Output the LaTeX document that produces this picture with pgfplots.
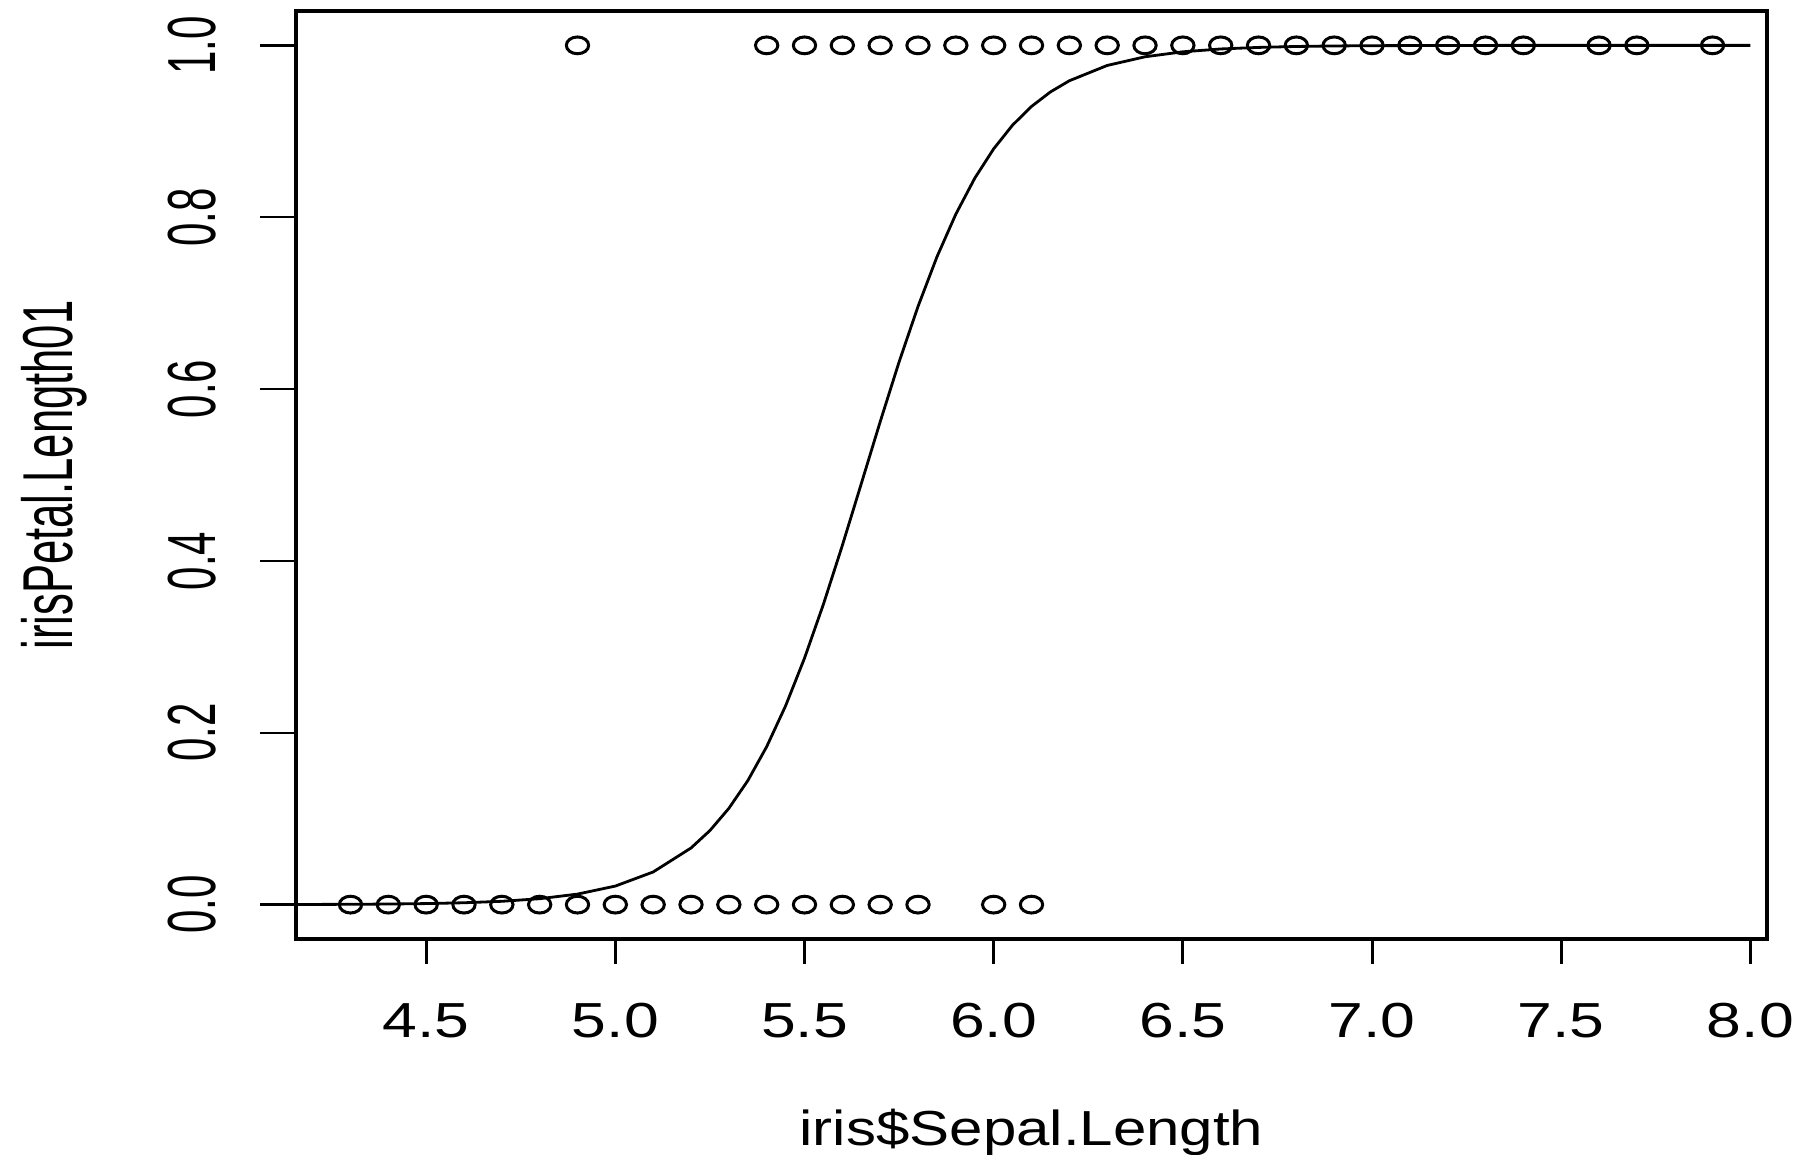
\documentclass[border=0pt]{standalone}
\usepackage{fontspec}
\setmainfont{Liberation Sans}
\newfontfamily\hfont[FakeStretch=1.27]{Liberation Sans}
\newfontfamily\lfont[FakeStretch=1.22]{Liberation Sans}
\usepackage{graphicx}
\usepackage{pgfplots}
\pgfplotsset{compat=1.18}
\newcommand\yl[1]{\scalebox{1}[1.62]{#1}}
\begin{document}
\begin{tikzpicture}
\path[use as bounding box] (0,0) rectangle (448.75pt,288.5pt);
\begin{axis}[
  at={(74pt,53.75pt)}, anchor=south west,
  scale only axis, width=367.75pt, height=232pt,
  xmin=4.156, xmax=8.044, ymin=-0.04, ymax=1.04,
  axis line style={line width=0.9pt},
  tick pos=left, tick align=outside,
  xtick={4.5,5.0,5.5,6.0,6.5,7.0,7.5,8.0},
  xticklabels={4.5,5.0,5.5,6.0,6.5,7.0,7.5,8.0},
  ytick={0,0.2,0.4,0.6,0.8,1.0},
  yticklabels={\yl{0.0},\yl{0.2},\yl{0.4},\yl{0.6},\yl{0.8},\yl{1.0}},
  major tick length=9pt,
  xtick style={/pgfplots/major tick length=6.25pt, line width=0.75pt, black},
  ytick style={line width=0.6pt, black},
  xticklabel style={font=\hfont\fontsize{12.3pt}{14pt}\selectfont, anchor=base, inner sep=0pt, yshift=-15.5pt},
  yticklabel style={xshift=-11.25pt, rotate=90, anchor=base, inner sep=0pt, font=\fontsize{10.5pt}{12pt}\selectfont},
  every axis x label/.style={at={(axis description cs:0.5,0)}, yshift=-51.5pt, anchor=base, inner sep=0pt, font=\lfont\fontsize{12.3pt}{14pt}\selectfont},
  every axis y label/.style={at={(axis description cs:0,0.5)}, xshift=-56pt, rotate=90, anchor=base, inner sep=0pt, font=\fontsize{10.9pt}{13pt}\selectfont},
  xlabel={iris\$Sepal.Length},
  ylabel={\yl{irisPetal.Length01}},
  clip=false,
]
\addplot[only marks, mark=o, mark size=2.1pt, mark options={xscale=1.33, line width=0.75pt, black}]
coordinates {
(4.3,0)(4.4,0)(4.5,0)(4.6,0)(4.7,0)(4.8,0)(4.9,0)(5.0,0)(5.1,0)(5.2,0)(5.3,0)(5.4,0)(5.5,0)(5.6,0)(5.7,0)(5.8,0)(6.0,0)(6.1,0)
(4.9,1)(5.4,1)(5.5,1)(5.6,1)(5.7,1)(5.8,1)(5.9,1)(6.0,1)(6.1,1)(6.2,1)(6.3,1)(6.4,1)(6.5,1)(6.6,1)(6.7,1)(6.8,1)(6.9,1)(7.0,1)(7.1,1)(7.2,1)(7.3,1)(7.4,1)(7.6,1)(7.7,1)(7.9,1)
};
\addplot[black, line width=0.7pt, no marks] coordinates {
(4.16,0.00017)(4.3,0.00038)(4.4,0.00068)(4.5,0.00122)(4.6,0.00217)(4.7,0.00387)(4.8,0.00689)(4.9,0.01225)(5.0,0.0216)(5.1,0.0380)(5.2,0.0659)(5.25,0.0862)(5.3,0.1120)(5.35,0.1442)(5.4,0.1838)(5.45,0.2313)(5.5,0.2868)(5.55,0.3496)(5.6,0.4180)(5.65,0.4898)(5.7,0.5619)(5.75,0.6316)(5.8,0.6961)(5.85,0.7538)(5.9,0.8036)(5.95,0.8454)(6.0,0.8796)(6.05,0.9072)(6.1,0.9289)(6.15,0.9458)(6.2,0.9588)(6.3,0.9766)(6.4,0.9867)(6.5,0.9925)(6.6,0.9958)(6.7,0.9976)(6.8,0.9987)(6.9,0.9993)(7.0,0.9996)(7.2,0.9999)(7.5,1.0)(8.0,1.0)
};
\end{axis}
\end{tikzpicture}
\end{document}
